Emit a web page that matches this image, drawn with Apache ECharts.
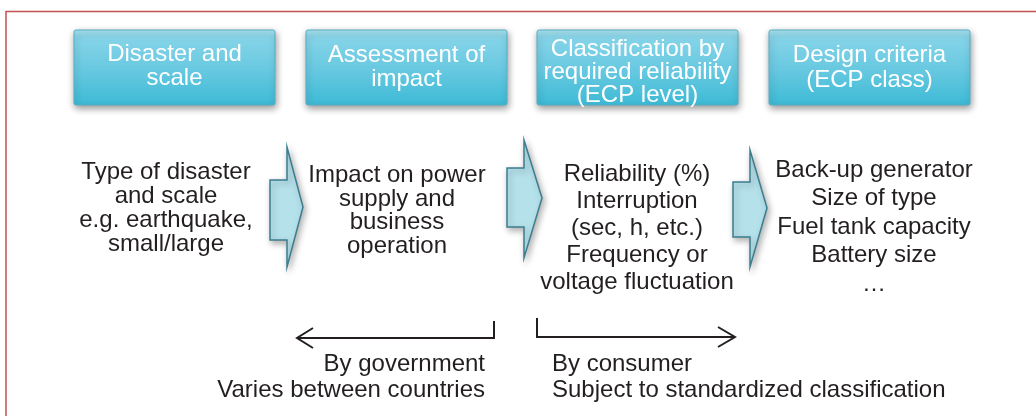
<!DOCTYPE html>
<html>
<head>
<meta charset="utf-8">
<script src="https://cdn.jsdelivr.net/npm/echarts@6/dist/echarts.min.js"></script>
<style>
    html, body { margin: 0; padding: 0; background: #fff; }
    #main { width: 1036px; height: 416px; }
</style>
</head>
<body>
<div id="main"></div>
<script>
// stage boxes along the top
var stageTitles = ['Disaster and\nscale', 'Assessment of\nimpact', 'Classification by\nrequired reliability\n(ECP level)', 'Design criteria\n(ECP class)'];
// text under each stage
var stageDetails = [
    ['Type of disaster', 'and scale', 'e.g. earthquake,', 'small/large'],
    ['Impact on power', 'supply and', 'business', 'operation'],
    ['Reliability (%)', 'Interruption', '(sec, h, etc.)', 'Frequency or', 'voltage fluctuation'],
    ['Back-up generator', 'Size of type', 'Fuel tank capacity', 'Battery size', '…']
];
// who decides, bottom brackets
var responsibleParty = ['By government', 'By consumer'];
var partyNotes = ['Varies between countries', 'Subject to standardized classification'];

// layout
var boxLeft = [74, 306, 537, 769];
var boxTop = 30, boxW = 201, boxH = 75;
var titleY = [66, 67, 72, 68];
var titleLH = [24, 24, 23, 25];
var detailX = [166, 397, 637, 874];
var detailY = [208, 211, 228, 227];
var detailLH = [24, 23.5, 27, 28.5];
// block arrows between columns: shaft left, head base, tip, shaft top/bottom, head top/bottom, tip y
var arrowGeo = [
    [270, 287, 303, 180, 240, 147, 267, 207],
    [507, 524, 542, 168, 227, 140, 258, 198],
    [733, 750, 767, 182, 237, 150, 267, 208]
];
var FONT = '"Liberation Sans", Arial, Helvetica, sans-serif';
var FS = 24;
var INK = '#231f20';

var chart = echarts.init(document.getElementById('main'), null, {renderer: 'canvas'});
var els = [];

// frame (only top and left visible)
els.push({
    type: 'polyline',
    shape: {points: [[6, 416], [6, 11.5], [1036, 11.5]]},
    style: {stroke: '#c0534f', lineWidth: 1.5, fill: null}
});

//标题框
stageTitles.forEach(function (t, i) {
    els.push({
        type: 'rect',
        shape: {x: boxLeft[i], y: boxTop, width: boxW, height: boxH, r: 2},
        style: {
            fill: new echarts.graphic.LinearGradient(0, 0, 0, 1, [
                {offset: 0, color: '#ade3ef'},
                {offset: 0.1, color: '#86d4e8'},
                {offset: 0.55, color: '#66c8e0'},
                {offset: 1, color: '#3dbad6'}
            ]),
            stroke: '#55aec3',
            lineWidth: 1,
            shadowBlur: 7,
            shadowOffsetX: 1,
            shadowOffsetY: 3,
            shadowColor: 'rgba(0,0,0,0.4)'
        }
    });
    els.push({
        type: 'text',
        x: boxLeft[i] + boxW / 2,
        y: titleY[i],
        style: {
            text: t,
            fill: '#fff',
            fontSize: FS,
            fontFamily: FONT,
            lineHeight: titleLH[i],
            align: 'center',
            verticalAlign: 'middle'
        }
    });
});

//说明文字
stageDetails.forEach(function (lines, i) {
    els.push({
        type: 'text',
        x: detailX[i],
        y: detailY[i],
        style: {
            text: lines.join('\n'),
            fill: INK,
            fontSize: FS,
            fontFamily: FONT,
            lineHeight: detailLH[i],
            align: 'center',
            verticalAlign: 'middle'
        }
    });
});

//箭头
arrowGeo.forEach(function (a) {
    els.push({
        type: 'polygon',
        shape: {points: [
            [a[0], a[3]], [a[1], a[3]], [a[1], a[5]], [a[2], a[7]],
            [a[1], a[6]], [a[1], a[4]], [a[0], a[4]]
        ]},
        style: {
            fill: '#b5e1eb',
            stroke: '#3b7e8f',
            lineWidth: 1.5,
            shadowBlur: 6,
            shadowOffsetX: 2,
            shadowOffsetY: 3,
            shadowColor: 'rgba(0,0,0,0.3)'
        }
    });
});

// bottom brackets
var lineStyle = {stroke: INK, lineWidth: 2, fill: null};
els.push({type: 'polyline', shape: {points: [[494, 321], [494, 338], [298, 338]]}, style: lineStyle});
els.push({type: 'polyline', shape: {points: [[313, 328], [297, 338], [313, 348]]}, style: lineStyle});
els.push({type: 'polyline', shape: {points: [[537, 318], [537, 337], [734, 337]]}, style: lineStyle});
els.push({type: 'polyline', shape: {points: [[718, 327], [735, 337], [718, 347]]}, style: lineStyle});

var noteX = [485, 552];
var noteAlign = ['right', 'left'];
responsibleParty.forEach(function (p, i) {
    els.push({
        type: 'text',
        x: noteX[i],
        y: 377,
        style: {
            text: p + '\n' + partyNotes[i],
            fill: INK,
            fontSize: FS,
            fontFamily: FONT,
            lineHeight: 26,
            align: noteAlign[i],
            verticalAlign: 'middle'
        }
    });
});

chart.setOption({
    animation: false,
    backgroundColor: '#fff',
    graphic: {elements: els}
});
</script>
</body>
</html>
